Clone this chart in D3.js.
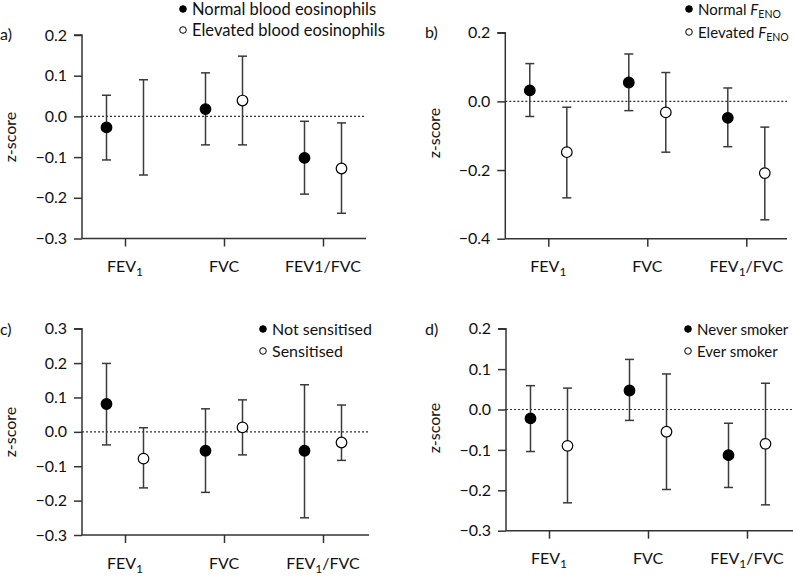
<!DOCTYPE html>
<html><head><meta charset="utf-8">
<script src="https://cdn.jsdelivr.net/npm/d3@7"></script>
<style>
body{margin:0;background:#fff;}
text{font-family:"Lato",sans-serif;fill:#111;}
</style></head>
<body><svg id="c" width="793" height="579"></svg>
<script>
const categories = ["FEV1","FVC","FEV1/FVC"];

// panel a: blood eosinophils
const aNormal    = [-0.027, 0.018, -0.102];
const aNormalLo  = [-0.107, -0.070, -0.191];
const aNormalHi  = [0.052, 0.107, -0.012];
const aElevated   = [null, 0.039, -0.128];
const aElevatedLo = [-0.144, -0.070, -0.238];
const aElevatedHi = [0.090, 0.148, -0.016];
const aTicks = [0.2, 0.1, 0.0, -0.1, -0.2, -0.3];

// panel b: FENO
const bNormal    = [0.032, 0.055, -0.048];
const bNormalLo  = [-0.044, -0.027, -0.132];
const bNormalHi  = [0.110, 0.138, 0.039];
const bElevated   = [-0.148, -0.032, -0.209];
const bElevatedLo = [-0.281, -0.148, -0.345];
const bElevatedHi = [-0.017, 0.084, -0.075];
const bTicks = [0.2, 0.0, -0.2, -0.4];

// panel c: sensitisation
const cNot    = [0.081, -0.055, -0.055];
const cNotLo  = [-0.038, -0.176, -0.250];
const cNotHi  = [0.199, 0.067, 0.137];
const cSens   = [-0.078, 0.013, -0.031];
const cSensLo = [-0.163, -0.067, -0.083];
const cSensHi = [0.012, 0.093, 0.078];
const cTicks = [0.3, 0.2, 0.1, 0.0, -0.1, -0.2, -0.3];

// panel d: smoking
const dNever    = [-0.022, 0.047, -0.113];
const dNeverLo  = [-0.104, -0.027, -0.193];
const dNeverHi  = [0.059, 0.124, -0.034];
const dEver     = [-0.090, -0.055, -0.085];
const dEverLo   = [-0.231, -0.198, -0.236];
const dEverHi   = [0.053, 0.088, 0.065];
const dTicks = [0.2, 0.1, 0.0, -0.1, -0.2, -0.3];

const FS = "16px";
const svg = d3.select("#c");
const fmt = d3.format(".1f");
const minus = v => fmt(v).replace("-", "\u2212");

function label(sel, name, subCat){
  if (name === "FEV1") {
    sel.append("tspan").text("FEV");
    sel.append("tspan").attr("dy", 4).attr("font-size", "12px").text("1");
  } else if (name === "FEV1/FVC" && subCat) {
    sel.append("tspan").text("FEV");
    sel.append("tspan").attr("dy", 4).attr("font-size", "12px").text("1");
    sel.append("tspan").attr("dy", -4).text("/FVC");
  } else sel.text(name);
}

function panel(o){
  const g = svg.append("g");
  const y = d3.scaleLinear().domain(o.domain).range([o.yb, o.yt]);
  const x = d3.scalePoint().domain(categories).range([o.x0 + 43, o.x0 + 241]);

  const ya = g.append("g").attr("transform", `translate(${o.x0},0)`)
    .call(d3.axisLeft(y).tickValues(o.ticks).tickSize(8).tickPadding(7).tickFormat(minus));
  ya.select(".domain").attr("stroke", "#333").attr("stroke-width", 1.5)
    .attr("d", `M-8,${o.yt}H0V${o.yb}`);
  ya.selectAll(".tick line").attr("stroke", "#333").attr("stroke-width", 1.5);
  ya.selectAll(".tick text").attr("font-size", FS).attr("fill", "#111")
    .attr("font-family", "Lato");

  const xa = g.append("g").attr("transform", `translate(0,${o.yb})`)
    .call(d3.axisBottom(x).tickSize(8).tickFormat(""));
  xa.select(".domain").attr("stroke", "#333").attr("stroke-width", 1.5)
    .attr("d", `M${o.x0},0H${o.xr}`);
  xa.selectAll(".tick line").attr("stroke", "#333").attr("stroke-width", 1.5);

  categories.forEach(c => {
    const t = g.append("text").attr("x", x(c)).attr("y", o.yb + 33.5)
      .attr("text-anchor", "middle").attr("font-size", FS);
    label(t, c, o.ratioSub);
  });

  g.append("line").attr("x1", o.x0).attr("x2", o.xr)
    .attr("y1", y(0)).attr("y2", y(0))
    .attr("stroke", "#333").attr("stroke-width", 1.1).attr("stroke-dasharray", "2,2");

  o.series.forEach((s, si) => {
    const off = si === 0 ? -18.5 : 18.5;
    categories.forEach((c, i) => {
      const cx = x(c) + off;
      g.append("line").attr("x1", cx).attr("x2", cx)
        .attr("y1", y(s.lo[i])).attr("y2", y(s.hi[i]))
        .attr("stroke", "#3a3a3a").attr("stroke-width", 1.5);
      [s.lo[i], s.hi[i]].forEach(v => {
        g.append("line").attr("x1", cx - 4.5).attr("x2", cx + 4.5)
          .attr("y1", y(v)).attr("y2", y(v))
          .attr("stroke", "#3a3a3a").attr("stroke-width", 1.5);
      });
      if (s.v[i] !== null) {
        g.append("circle").attr("cx", cx).attr("cy", y(s.v[i])).attr("r", 5.3)
          .attr("fill", si === 0 ? "#000" : "#fff").attr("stroke", "#000").attr("stroke-width", 1.2);
      }
    });
  });

  g.append("text").attr("transform", `translate(${o.ytx},${o.yty}) rotate(-90)`)
    .attr("text-anchor", "middle").attr("font-size", FS).text("z-score");
  g.append("text").attr("x", o.lx).attr("y", o.ly).attr("font-size", FS).text(o.letter);

  o.legend.forEach((L, i) => {
    const ly = o.legY[i];
    g.append("circle").attr("cx", o.legX).attr("cy", ly).attr("r", 3.3)
      .attr("fill", i === 0 ? "#000" : "#fff").attr("stroke", "#000").attr("stroke-width", 1);
    const t = g.append("text").attr("x", o.legX + 9).attr("y", ly + 5.5).attr("font-size", o.legFS);
    if (L.feno) {
      t.append("tspan").text(L.text + " ");
      t.append("tspan").attr("font-style", "italic").text("F");
      t.append("tspan").attr("dy", 3.5).attr("font-size", "10.5px").text("ENO");
    } else t.text(L.text);
  });
}

panel({letter:"a)", lx:0, ly:40, x0:82, xr:366, yt:35, yb:238.5, domain:[-0.3,0.2], ticks:aTicks,
  ratioSub:false, ytx:16, yty:137, legFS:"16.5px",
  series:[{v:aNormal, lo:aNormalLo, hi:aNormalHi},{v:aElevated, lo:aElevatedLo, hi:aElevatedHi}],
  legX:183, legY:[9,30], legend:[{text:"Normal blood eosinophils"},{text:"Elevated blood eosinophils"}]});

panel({letter:"b)", lx:425, ly:38, x0:505.3, xr:787, yt:32.7, yb:238.7, domain:[-0.4,0.2], ticks:bTicks,
  ratioSub:true, ytx:440, yty:133, legFS:"15px",
  series:[{v:bNormal, lo:bNormalLo, hi:bNormalHi},{v:bElevated, lo:bElevatedLo, hi:bElevatedHi}],
  legX:689, legY:[9,32], legend:[{text:"Normal", feno:true},{text:"Elevated", feno:true}]});

panel({letter:"c)", lx:0, ly:335, x0:82, xr:369, yt:328.7, yb:535, domain:[-0.3,0.3], ticks:cTicks,
  ratioSub:true, ytx:16, yty:432, legFS:"16px",
  series:[{v:cNot, lo:cNotLo, hi:cNotHi},{v:cSens, lo:cSensLo, hi:cSensHi}],
  legX:263, legY:[329,351], legend:[{text:"Not sensitised"},{text:"Sensitised"}]});

panel({letter:"d)", lx:425, ly:335, x0:506, xr:793, yt:328.7, yb:530.7, domain:[-0.3,0.2], ticks:dTicks,
  ratioSub:true, ytx:440, yty:428, legFS:"15px",
  series:[{v:dNever, lo:dNeverLo, hi:dNeverHi},{v:dEver, lo:dEverLo, hi:dEverHi}],
  legX:688, legY:[329,351], legend:[{text:"Never smoker"},{text:"Ever smoker"}]});
</script></body></html>
